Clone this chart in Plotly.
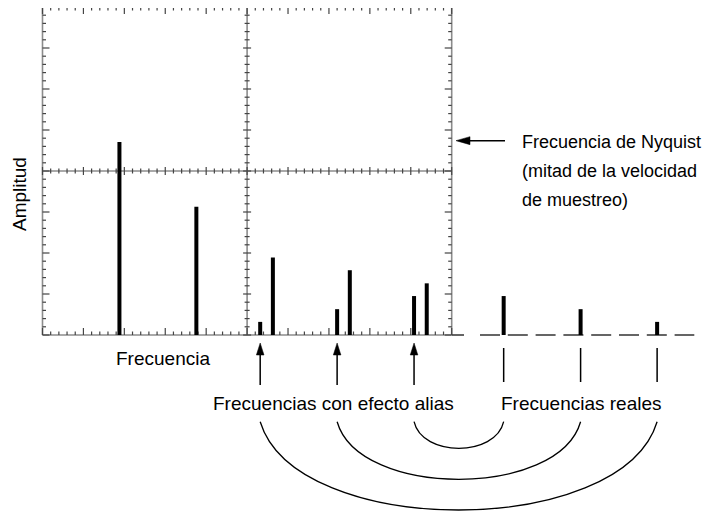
import plotly.graph_objects as go

# spectrum lines inside the screen (x in divisions, amplitude in divisions)
harm_freq = [1.88, 3.76, 5.63, 7.51, 9.39]
harm_amp = [4.71, 3.13, 1.89, 1.58, 1.26]

# real frequencies above Nyquist and the aliased ones they fold onto
real_freq = [11.27, 13.15, 15.02]
real_amp = [0.95, 0.63, 0.32]
alias_freq = [9.08, 7.20, 5.32]
alias_amp = [0.95, 0.63, 0.32]

nyquist_level = 4.74

label_x = "Frecuencia"
label_y = "Amplitud"
label_alias = "Frecuencias con efecto alias"
label_real = "Frecuencias reales"
label_nyquist = ["Frecuencia de Nyquist", "(mitad de la velocidad", "de muestreo)"]

# screen geometry
SX, SY = 40.92, 41.0          # pixels per division
NX, NY = 10, 8                # graticule divisions
X0, Y0 = 42.5, 335.0          # page pixel of the screen origin
PAGE = 8                      # page margin around the figure
W, H = 717 - PAGE, 514 - PAGE
FONT = "Liberation Sans, Arial, sans-serif"


def dx(p):
    return p / SX


def dy(p):
    return p / SY


fig = go.Figure()

# graticule frame and centre lines
gx, gy = [], []
for x in (0, NX / 2, NX):
    gx += [x, x, None]
    gy += [0, NY, None]
for y in (0, NY / 2, NY):
    gx += [0, NX, None]
    gy += [y, y, None]
fig.add_trace(go.Scatter(x=gx, y=gy, mode="lines", line=dict(color="#8c8c8c", width=1.6),
                         hoverinfo="skip", showlegend=False))

# graticule ticks
tx, ty = [], []
for i in range(NX * 5 + 1):
    x = i / 5
    major = i % 5 == 0
    L = dy(7 if major else 3.5)
    c = dy(4 if major else 2.5)
    tx += [x, x, None, x, x, None, x, x, None]
    ty += [0, L, None, NY, NY - L, None, NY / 2 - c, NY / 2 + c, None]
for i in range(NY * 5 + 1):
    y = i / 5
    major = i % 5 == 0
    L = dx(7 if major else 3.5)
    c = dx(4 if major else 2.5)
    tx += [0, L, None, NX, NX - L, None, NX / 2 - c, NX / 2 + c, None]
    ty += [y, y, None, y, y, None, y, y, None]
fig.add_trace(go.Scatter(x=tx, y=ty, mode="lines", line=dict(color="#444444", width=1.2),
                         hoverinfo="skip", showlegend=False))

# dashed baseline beyond the screen
fig.add_trace(go.Scatter(x=[NX + dx(0.3), NX + dx(242.6)], y=[0, 0], mode="lines",
                         line=dict(color="#333333", width=1.3,
                                   dash="12px,16px" + ",20px,7.8px" * 9),
                         hoverinfo="skip", showlegend=False))

# spectrum lines
bx, by = [], []
for f, a in zip(harm_freq + alias_freq + real_freq, harm_amp + alias_amp + real_amp):
    bx += [f, f, None]
    by += [0, a, None]
fig.add_trace(go.Scatter(x=bx, y=by, mode="lines", line=dict(color="black", width=4),
                         hoverinfo="skip", showlegend=False))

shapes = []
# arrows under aliased frequencies
tip, head, tail = -dy(8), -dy(20), -dy(50)
ax_, ay_ = [], []
for f in alias_freq:
    ax_ += [f, f, None]
    ay_ += [head, tail, None]
    shapes.append(dict(type="path", xref="x", yref="y",
                       path=f"M {f},{tip} L {f - dx(3.8)},{head} L {f + dx(3.8)},{head} Z",
                       fillcolor="black", line=dict(color="black", width=0.5)))
# marks under real frequencies
for f in real_freq:
    ax_ += [f, f, None]
    ay_ += [-dy(13), -dy(47), None]
# Nyquist arrow
nx0 = NX + dx(4.3)
ax_ += [nx0 + dx(12), NX + dx(53.3), None]
ay_ += [nyquist_level, nyquist_level, None]
shapes.append(dict(type="path", xref="x", yref="y",
                   path=f"M {nx0},{nyquist_level} L {nx0 + dx(14)},{nyquist_level + dy(4)} "
                        f"L {nx0 + dx(14)},{nyquist_level - dy(4)} Z",
                   fillcolor="black", line=dict(color="black", width=0.5)))
fig.add_trace(go.Scatter(x=ax_, y=ay_, mode="lines", line=dict(color="black", width=1.5),
                         hoverinfo="skip", showlegend=False))

# arcs pairing each alias with its real frequency
arc_top = -dy(86.7)
arc_depth = [dy(26.6), dy(57.6), dy(88.3)]
for f1, f2, d in zip(alias_freq, real_freq, arc_depth):
    hw = (f2 - f1) / 2
    c = 0.18 * hw
    yc = arc_top - d / 0.75
    shapes.append(dict(type="path", xref="x", yref="y",
                       path=f"M {f1},{arc_top} C {f1 + c},{yc} {f2 - c},{yc} {f2},{arc_top}",
                       line=dict(color="black", width=1.3)))

font = dict(family=FONT, size=19, color="black")
ann = [
    dict(x=dx(162.5 - X0), y=-dy(23), text=label_x),
    dict(x=-dx(23.5), y=dy(141), text=label_y, textangle=-90),
    dict(x=dx(333 - X0), y=-dy(68), text=label_alias),
    dict(x=dx(581 - X0), y=-dy(68), text=label_real),
]
for i, t in enumerate(label_nyquist):
    ann.append(dict(x=dx(520 - X0), y=dy(Y0 - 142 - 29 * i), text=t, xanchor="left",
                    font=dict(family=FONT, size=18, color="black")))
for a in ann:
    a.update(xref="x", yref="y", showarrow=False)
    a.setdefault("font", font)
    a.setdefault("xanchor", "center")
    a["yanchor"] = "middle"

fig.update_layout(
    width=W, height=H,
    margin=dict(l=0, r=0, t=0, b=0),
    plot_bgcolor="white", paper_bgcolor="white",
    showlegend=False,
    shapes=shapes,
    annotations=ann,
    xaxis=dict(range=[dx(PAGE - X0), dx(PAGE + W - X0)], visible=False, fixedrange=True),
    yaxis=dict(range=[dy(Y0 - PAGE - H), dy(Y0 - PAGE)], visible=False, fixedrange=True),
)

fig.write_html("out.html")
